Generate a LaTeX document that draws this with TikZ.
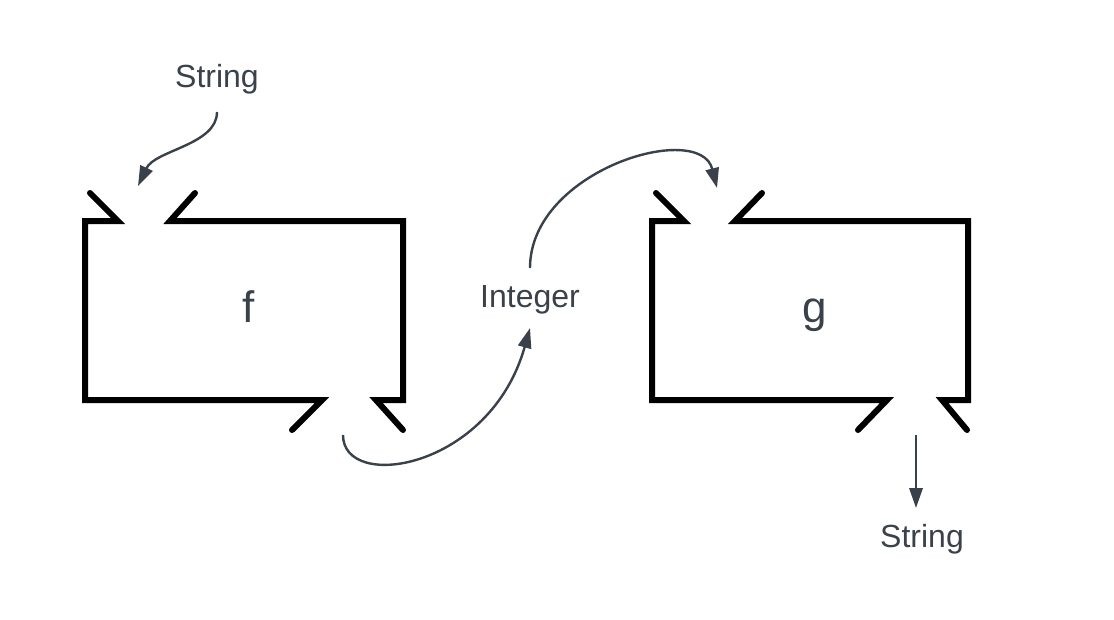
\documentclass[tikz,border=0pt]{standalone}
\usepackage{fontspec}
\setmainfont{Liberation Sans}
\usetikzlibrary{arrows.meta}
\definecolor{ink}{HTML}{3A414B}

\begin{document}
\begin{tikzpicture}[x=0.75pt,y=-0.75pt,
    box/.style={line width=4.5pt,line cap=round,line join=miter},
    link/.style={ink,line width=1.8pt,-{Triangle[length=15pt,width=10pt]}},
    lbl/.style={ink,font=\fontsize{24}{28}\selectfont,anchor=base,inner sep=0pt},
    fname/.style={ink,font=\fontsize{33}{38}\selectfont,anchor=base,inner sep=0pt}]
    \useasboundingbox (0,0) rectangle (1114,619);
    \draw[box] (90,193) -- (118,221) -- (85,221) -- (85,400) -- (322,400) -- (292,430);
    \draw[box] (195,193) -- (170,221) -- (403,221) -- (403,400) -- (376,400) -- (403,430);
    \draw[box] (656,193) -- (684,221) -- (652,221) -- (652,400) -- (887,400) -- (858,430);
    \draw[box] (762,193) -- (735,221) -- (968,221) -- (968,400) -- (942,400) -- (967,430);
    \node[fname] (f) at (249,322) {f};
    \node[fname] (g) at (815,322) {g};
    \node[lbl] (strin) at (217,87) {String};
    \node[lbl] (int) at (530,307) {Integer};
    \node[lbl] (strout) at (922,547) {String};
    \coordinate (fin) at (138,186);
    \coordinate (fout) at (343,435);
    \coordinate (gin) at (717,188);
    \coordinate (gout) at (916,435);
    \coordinate (strintail) at (217,112);
    \coordinate (inttip) at (530,328);
    \coordinate (inttail) at (530,268);
    \coordinate (strouttip) at (916,508);
    \draw[link] (strintail) .. controls (217,145) and (155,150) .. (fin);
    \draw[link] (fout) .. controls (343,492) and (490,470) .. (inttip);
    \draw[link] (inttail) .. controls (530,170) and (700,120) .. (gin);
    \draw[link] (gout) -- (strouttip);
\end{tikzpicture}
\end{document}
